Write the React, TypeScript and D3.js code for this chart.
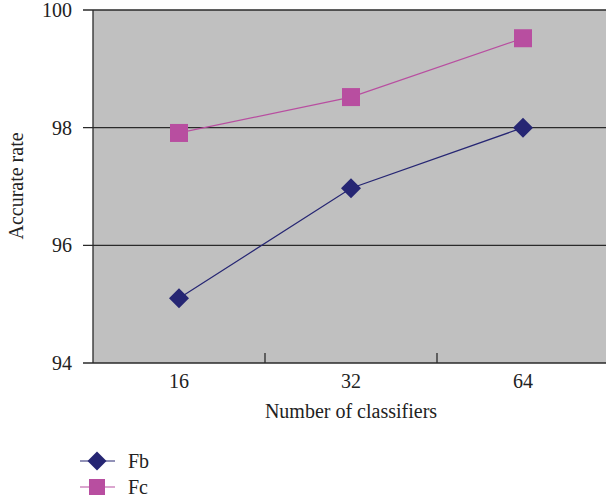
import React from "react";
import * as d3 from "d3";

const categories = ["16", "32", "64"];
const fbValues = [95.1, 96.97, 98.0];
const fcValues = [97.91, 98.52, 99.52];
const yTicks = [94, 96, 98, 100];

const W = 606;
const H = 501;
const M = { left: 93, top: 10, right: 609, bottom: 363 };
const FONT = '"Liberation Serif", "Times New Roman", "DejaVu Serif", serif';
const FS = 20;
const NAVY = "#262673";
const PINK = "#b84ea0";
const AXIS = "#2a2a2a";
const TEXT = "#222";

const txt: React.CSSProperties = { fontFamily: FONT, fontSize: FS };

export default function App() {
  const x = d3.scaleBand<string>().domain(categories).range([M.left, M.right]);
  const y = d3.scaleLinear().domain([94, 100]).range([M.bottom, M.top]);
  const cx = (c: string) => (x(c) ?? 0) + x.bandwidth() / 2;
  const line = d3
    .line<number>()
    .x((_, i) => cx(categories[i]))
    .y((d) => y(d));

  const diamond = (px: number, py: number, r: number) =>
    `M${px},${py - r}L${px + r},${py}L${px},${py + r}L${px - r},${py}Z`;

  return (
    <svg
      width={W}
      height={H}
      style={{ position: "absolute", left: 0, top: 0, display: "block" }}
    >
      <rect x={0} y={0} width={W} height={H} fill="#fff" />
      <rect
        x={M.left}
        y={M.top}
        width={M.right - M.left}
        height={M.bottom - M.top}
        fill="#c0c0c0"
      />
      {/* horizontal gridlines with outward ticks */}
      {yTicks.map((t) => (
        <g key={t}>
          <line x1={83} x2={M.right} y1={y(t)} y2={y(t)} stroke={AXIS} strokeWidth={1.3} />
          <text
            x={72}
            y={y(t)}
            dy="0.35em"
            textAnchor="end"
            style={txt}
            fill={TEXT}
          >
            {t}
          </text>
        </g>
      ))}
      <line x1={M.left} x2={M.left} y1={M.top} y2={M.bottom} stroke={AXIS} strokeWidth={1.3} />
      {/* category separators on the x axis */}
      {categories.slice(1).map((c) => (
        <line
          key={c}
          x1={x(c)}
          x2={x(c)}
          y1={M.bottom}
          y2={M.bottom - 10}
          stroke={AXIS}
          strokeWidth={1.3}
        />
      ))}
      {categories.map((c) => (
        <text key={c} x={cx(c)} y={388} textAnchor="middle" style={txt} fill={TEXT}>
          {c}
        </text>
      ))}
      <text x={351} y={418} textAnchor="middle" style={txt} fill={TEXT}>
        Number of classifiers
      </text>
      <text
        transform="translate(23,186) rotate(-90)"
        textAnchor="middle"
        style={txt}
        fill={TEXT}
      >
        Accurate rate
      </text>

      {/* series */}
      <path d={line(fbValues) ?? ""} fill="none" stroke={NAVY} strokeWidth={1.2} />
      <path d={line(fcValues) ?? ""} fill="none" stroke={PINK} strokeWidth={1.2} />
      {fbValues.map((v, i) => (
        <path key={i} d={diamond(cx(categories[i]), y(v), 10)} fill={NAVY} />
      ))}
      {fcValues.map((v, i) => (
        <rect
          key={i}
          x={cx(categories[i]) - 9}
          y={y(v) - 9}
          width={18}
          height={18}
          fill={PINK}
        />
      ))}

      {/* legend */}
      <g>
        <line x1={80} x2={115} y1={461} y2={461} stroke={NAVY} strokeWidth={1.2} />
        <path d={diamond(97, 461, 9.5)} fill={NAVY} />
        <text x={128} y={461} dy="0.35em" style={txt} fill={TEXT}>
          Fb
        </text>
        <line x1={80} x2={115} y1={487} y2={487} stroke={PINK} strokeWidth={1.2} />
        <rect x={89} y={479} width={16} height={16} fill={PINK} />
        <text x={128} y={487} dy="0.35em" style={txt} fill={TEXT}>
          Fc
        </text>
      </g>
    </svg>
  );
}
